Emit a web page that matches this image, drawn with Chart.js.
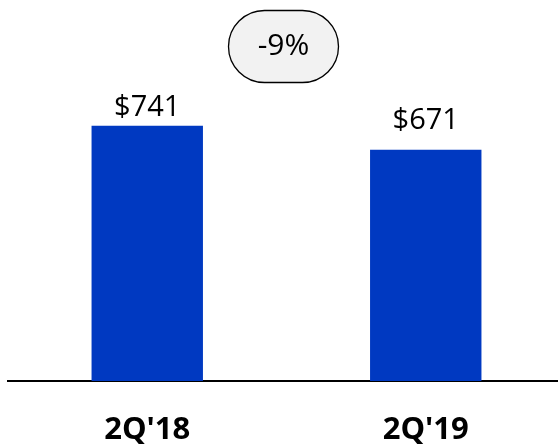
<!DOCTYPE html>
<html>
<head>
<meta charset="utf-8">
<script src="https://cdn.jsdelivr.net/npm/chart.js@4"></script>
<style>
  html, body { margin: 0; padding: 0; background: #fff; overflow: hidden; }
  #wrap { width: 558px; height: 445px; overflow: hidden; }
</style>
</head>
<body>
<div id="wrap"><canvas id="revChart" width="565" height="445"></canvas></div>
<script>
const categories = ["2Q'18", "2Q'19"];
const revenue = [741, 671];
const valueLabels = ['$741', '$671'];
const changeLabel = '-9%';

const FONT = "'Open Sans', 'Noto Sans', sans-serif";

// value labels above each bar
const valueLabelPlugin = {
  id: 'valueLabels',
  afterDatasetsDraw(chart, args, opts) {
    const ctx = chart.ctx;
    const meta = chart.getDatasetMeta(0);
    ctx.save();
    ctx.font = '29px ' + FONT;
    ctx.fillStyle = '#000';
    ctx.textAlign = 'center';
    ctx.textBaseline = 'alphabetic';
    meta.data.forEach((bar, i) => {
      ctx.fillText(valueLabels[i], bar.x, bar.y - opts.gap[i]);
    });
    ctx.restore();
  }
};

// rounded "-9%" callout
const changePlugin = {
  id: 'changeBubble',
  afterDraw(chart, args, opts) {
    const ctx = chart.ctx;
    const x = 228.5, y = 10.5, w = 110, h = 72, r = h / 2;
    ctx.save();
    ctx.beginPath();
    ctx.roundRect(x, y, w, h, r);
    ctx.fillStyle = '#f2f2f2';
    ctx.fill();
    ctx.lineWidth = 1.3;
    ctx.strokeStyle = '#000';
    ctx.stroke();
    ctx.font = '30px ' + FONT;
    ctx.fillStyle = '#000';
    ctx.textAlign = 'center';
    ctx.textBaseline = 'middle';
    ctx.fillText(changeLabel, x + w / 2, y + h / 2);
    ctx.restore();
  }
};

const ctx = document.getElementById('revChart').getContext('2d');
const revChart = new Chart(ctx, {
  type: 'bar',
  data: {
    labels: categories,
    datasets: [{
      data: revenue,
      backgroundColor: '#0039c1',
      borderWidth: 0,
      barPercentage: 0.4,
      categoryPercentage: 1
    }]
  },
  options: {
    responsive: false,
    animation: false,
    layout: { padding: { top: 36.5, left: 8, right: 0, bottom: 1 } },
    plugins: {
      legend: { display: false },
      tooltip: { enabled: false },
      valueLabels: { gap: [10, 21] }
    },
    scales: {
      x: {
        grid: { display: false, drawTicks: false },
        border: { display: true, color: '#000', width: 2 },
        ticks: {
          color: '#000',
          padding: 34,
          maxRotation: 0,
          font: { family: FONT, size: 31, weight: 'bold', lineHeight: 1 }
        },
        afterFit(scale) { scale.height = 63; }
      },
      y: {
        display: false,
        min: 0,
        max: 1000
      }
    }
  },
  plugins: [valueLabelPlugin, changePlugin]
});
</script>
</body>
</html>
